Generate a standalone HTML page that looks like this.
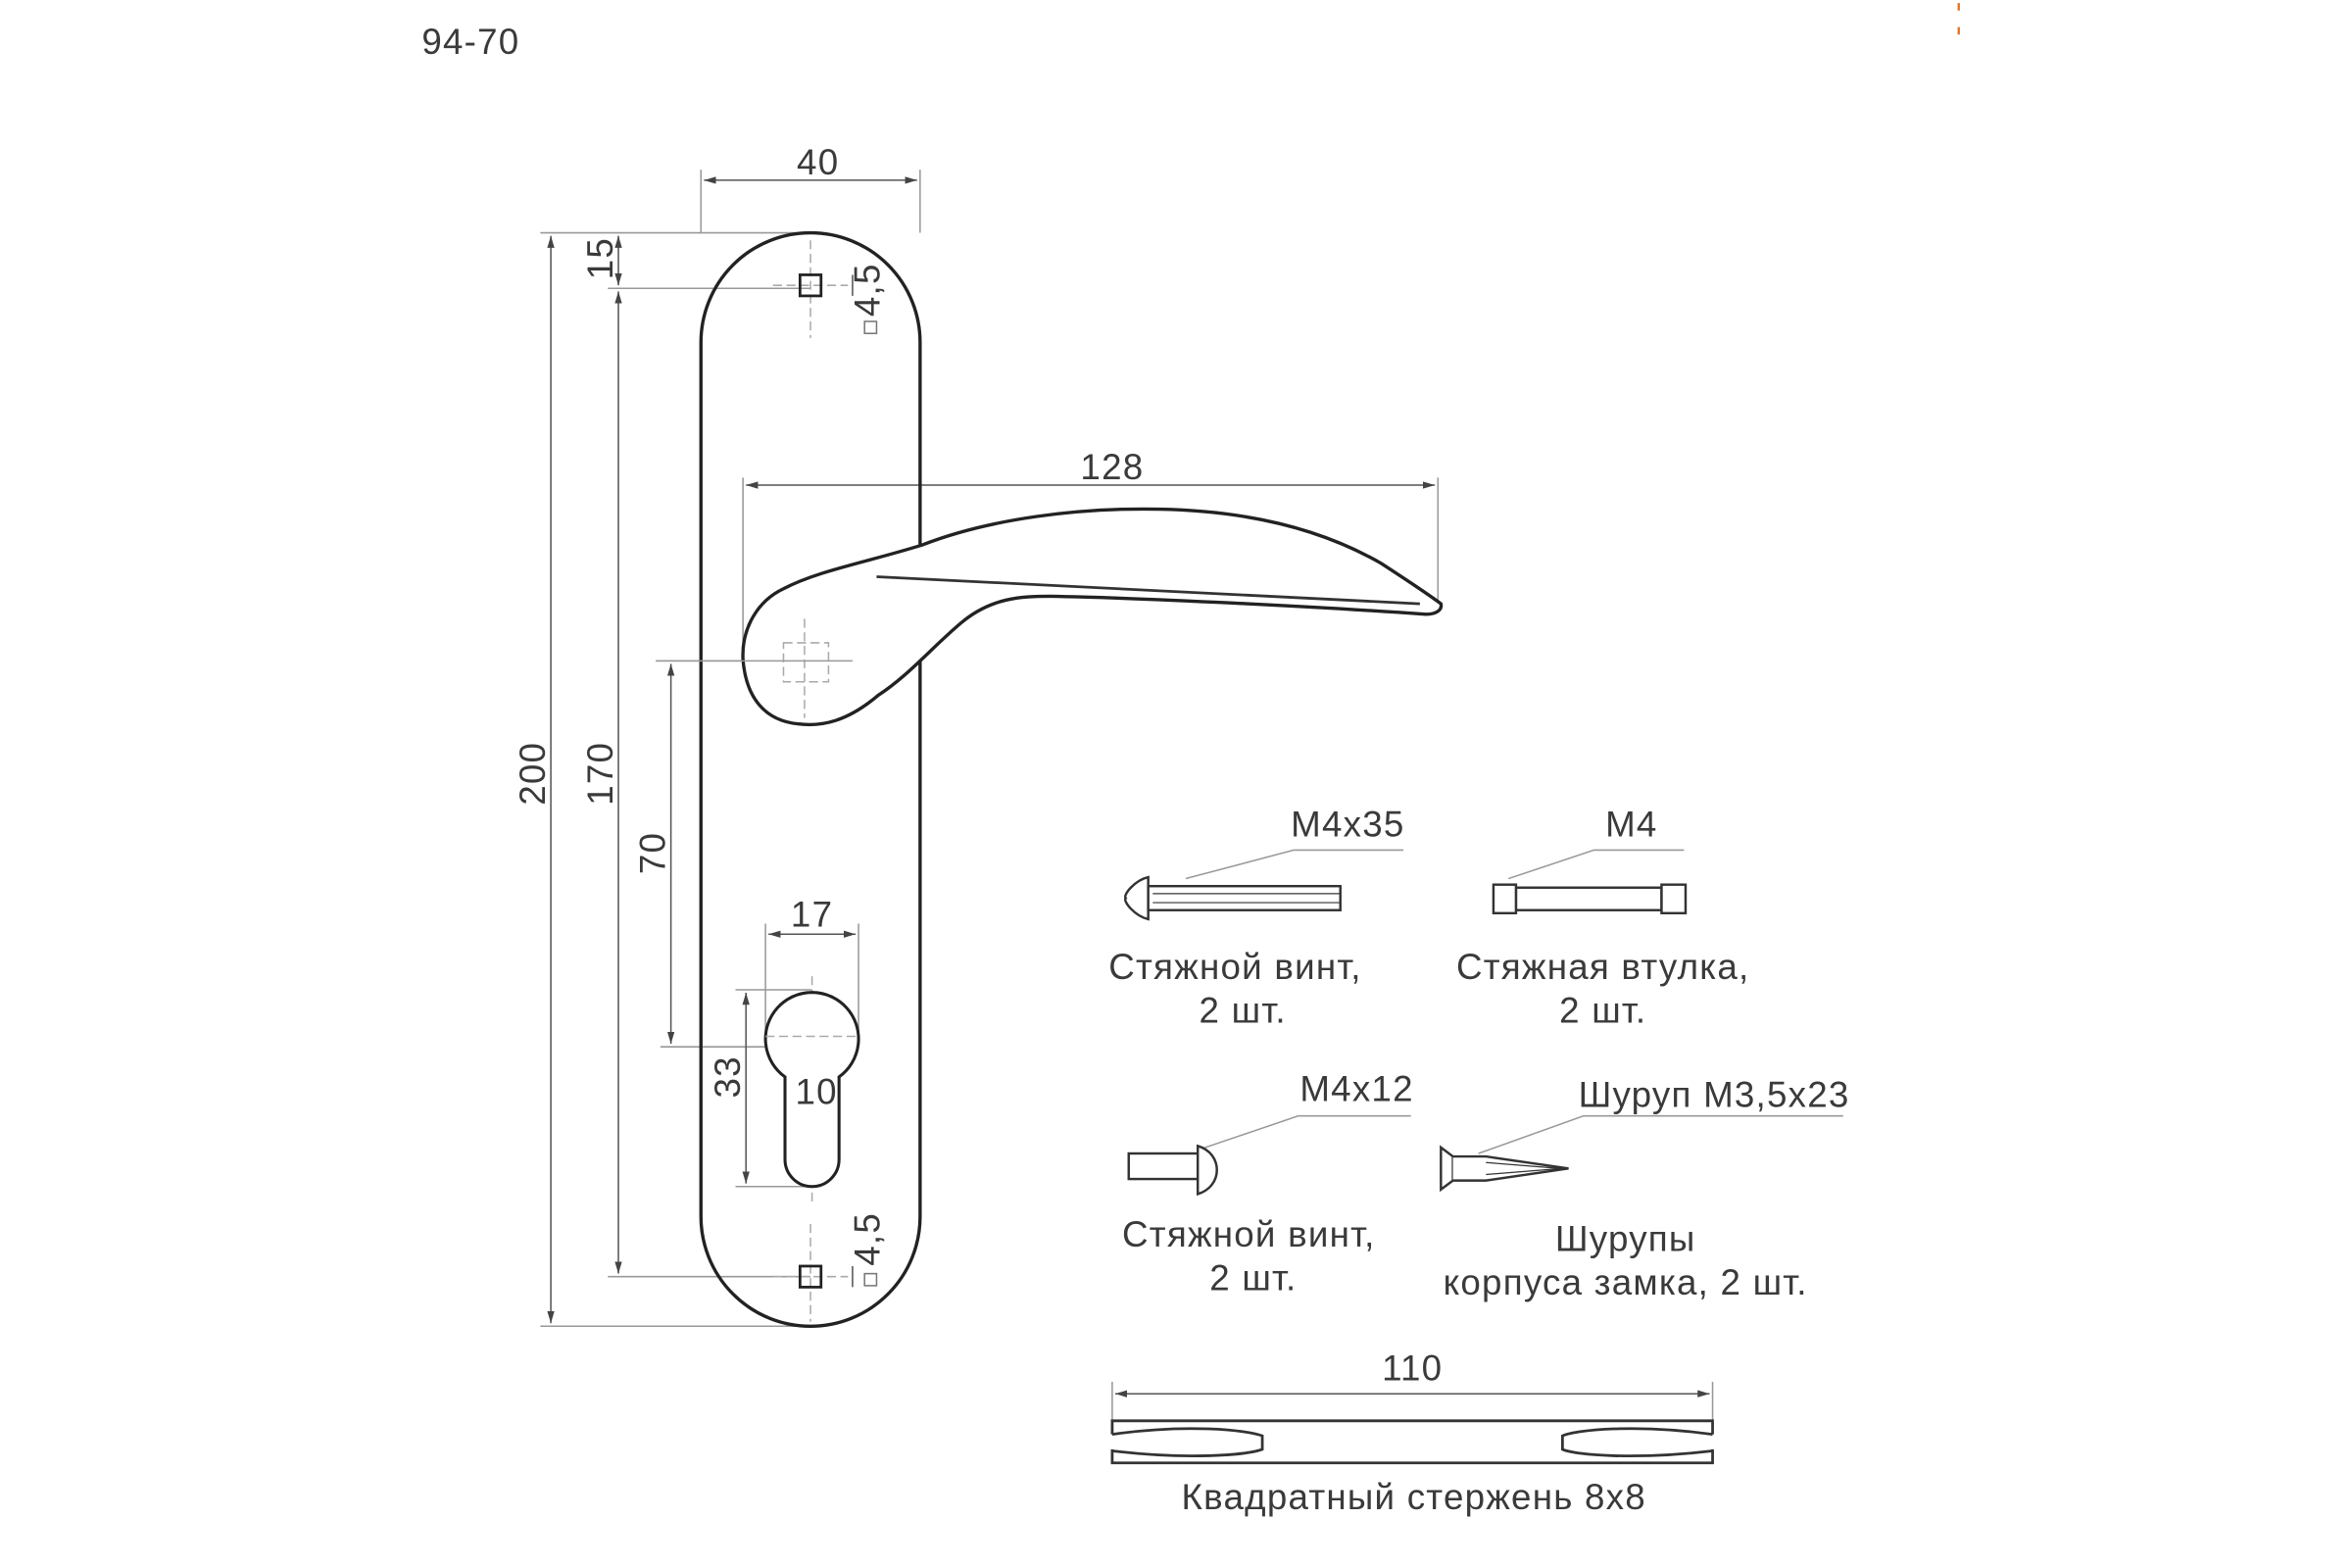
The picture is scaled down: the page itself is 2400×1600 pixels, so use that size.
<!DOCTYPE html>
<html><head><meta charset="utf-8"><style>
html,body{margin:0;padding:0;background:#fff;}
svg{display:block;}
text{font-family:"Liberation Sans",sans-serif;fill:#3a3a3a;font-size:24px;letter-spacing:0.8px;}
</style></head><body>
<svg width="2400" height="1600" viewBox="0 0 1567 1044" preserveAspectRatio="none" xmlns="http://www.w3.org/2000/svg">
<defs>
<marker id="a" viewBox="0 0 10 6" refX="10" refY="3" markerWidth="8" markerHeight="5" orient="auto-start-reverse"><path d="M0,0L10,3L0,6z" fill="#444"/></marker>
</defs>
<text x="281" y="36">94-70</text>
<path d="M1305,2v5M1305,18v5" stroke="#e07020" stroke-width="1.5"/>
<g fill="none" stroke="#999" stroke-width="1">
<path d="M467,155V113M613,155V113"/>
<path d="M360,155H540M360,883H540M405,192H540M405,850H540"/>
<path d="M495,440V318M958,400V318"/>
<path d="M437,440H568M440,697H540"/>
<path d="M510,690V615M572,690V615M490,659H541M490,790H541"/>
<path d="M741,946V920M1141,946V920"/>
<path d="M790,585L862,566H935M1005,585L1062,566H1122M800,765L865,743H940M985,768L1055,743H1228"/>
</g>
<g stroke="#555" stroke-width="1" fill="none">
<path d="M469,120H611" marker-start="url(#a)" marker-end="url(#a)"/>
<path d="M367,157V881" marker-start="url(#a)" marker-end="url(#a)"/>
<path d="M412,157V190" marker-start="url(#a)" marker-end="url(#a)"/>
<path d="M412,194V848" marker-start="url(#a)" marker-end="url(#a)"/>
<path d="M497,323H956" marker-start="url(#a)" marker-end="url(#a)"/>
<path d="M447,442V695" marker-start="url(#a)" marker-end="url(#a)"/>
<path d="M512,622H570" marker-start="url(#a)" marker-end="url(#a)"/>
<path d="M497,661V788" marker-start="url(#a)" marker-end="url(#a)"/>
<path d="M525,740H557" marker-start="url(#a)" marker-end="url(#a)"/>
<path d="M743,928H1139" marker-start="url(#a)" marker-end="url(#a)"/>
<path d="M568,183V197M568,843V857"/>
</g>
<g stroke="#aaa" stroke-width="1" stroke-dasharray="6,3" fill="none">
<path d="M540,160V225M540,815V880M541,650V800M515,190H565M515,850H565"/>
</g>
<rect x="467" y="155" width="146" height="728" rx="73" ry="73" fill="none" stroke="#222" stroke-width="2.2"/>
<rect x="533" y="183" width="14" height="14" fill="none" stroke="#222" stroke-width="1.8"/>
<rect x="533" y="843" width="14" height="14" fill="none" stroke="#222" stroke-width="1.8"/>
<rect x="576" y="214" width="8" height="8" fill="none" stroke="#777" stroke-width="1"/>
<rect x="576" y="848" width="8" height="8" fill="none" stroke="#777" stroke-width="1"/>
<path d="M523,717 A31,31 0 1 1 559,717 V772 A18,18 0 0 1 523,772 Z" fill="#fff" stroke="#222" stroke-width="2"/>
<path d="M510,690H572" stroke="#aaa" stroke-dasharray="6,3"/>
<path d="M495,439 C494,418 505,400 522,392 C545,380 575,375 614,363 C660,345 720,338 772,339 C830,340 880,352 920,375 C940,388 952,396 960,402 C961,406 957,409 950,409 C880,404 760,398 700,397 C680,397 660,398 640,415 C620,432 605,450 585,463 C565,480 548,484 532,482 C510,480 497,465 495,439 Z" fill="#fff" stroke="#222" stroke-width="2.2"/>
<path d="M584,384 L946,402" stroke="#333" stroke-width="1.8"/>
<g stroke="#aaa" stroke-width="1" fill="none" stroke-dasharray="6,3"><rect x="522" y="428" width="30" height="26"/><path d="M536,412V478"/></g>
<path d="M437,440H568" stroke="#999" stroke-width="1"/>
<text x="545" y="116" text-anchor="middle">40</text>
<text x="741" y="319" text-anchor="middle">128</text>
<text x="541" y="617" text-anchor="middle">17</text>
<text x="544" y="735" text-anchor="middle">10</text>
<text transform="translate(363,515) rotate(-90)" text-anchor="middle">200</text>
<text transform="translate(408,515) rotate(-90)" text-anchor="middle">170</text>
<text transform="translate(408,172) rotate(-90)" text-anchor="middle">15</text>
<text transform="translate(443,568) rotate(-90)" text-anchor="middle">70</text>
<text transform="translate(493,717) rotate(-90)" text-anchor="middle">33</text>
<text transform="translate(586,193) rotate(-90)" text-anchor="middle">4,5</text>
<text transform="translate(586,825) rotate(-90)" text-anchor="middle">4,5</text>
<g fill="#fff" stroke="#333" stroke-width="1.6">
<path d="M765,584 C756,586 748,596 750,598 C748,600 756,610 765,612 Z"/>
<rect x="765" y="590" width="128" height="16"/>
<path d="M768,595H893M768,601H893" stroke-width="0.8"/>
<rect x="1010" y="591" width="97" height="15"/>
<rect x="995" y="589" width="15" height="19"/>
<rect x="1107" y="589" width="16" height="19"/>
<rect x="752" y="768" width="46" height="17"/>
<path d="M798,763 C815,768 815,790 798,795 Z"/>
<path d="M960,764 L968,770 V786 L960,792 Z"/>
<path d="M968,770 H990 L1045,778 L990,786 H968" />
<path d="M990,774 L1040,778 L990,782" stroke-width="0.8"/>
</g>
<g fill="none" stroke="#333" stroke-width="1.8">
<path d="M741,955V946H1141V955M1141,965V974H741V965"/>
<path d="M741,955 C790,948 830,952 841,956 V965 C830,969 790,972 741,966"/>
<path d="M1141,955 C1090,948 1050,952 1041,956 V965 C1050,969 1090,972 1141,966"/>
</g>
<text x="898" y="557" text-anchor="middle">M4x35</text>
<text x="1087" y="557" text-anchor="middle">M4</text>
<text x="904" y="733" text-anchor="middle">M4x12</text>
<text x="1142" y="737" text-anchor="middle">Шуруп M3,5x23</text>
<text x="823" y="652" text-anchor="middle">Стяжной винт,</text>
<text x="828" y="681" text-anchor="middle">2 шт.</text>
<text x="1068" y="652" text-anchor="middle">Стяжная втулка,</text>
<text x="1068" y="681" text-anchor="middle">2 шт.</text>
<text x="832" y="830" text-anchor="middle">Стяжной винт,</text>
<text x="835" y="859" text-anchor="middle">2 шт.</text>
<text x="1083" y="833" text-anchor="middle">Шурупы</text>
<text x="1083" y="862" text-anchor="middle">корпуса замка, 2 шт.</text>
<text x="941" y="919" text-anchor="middle">110</text>
<text x="942" y="1005" text-anchor="middle">Квадратный стержень 8x8</text>
</svg>
</body></html>
